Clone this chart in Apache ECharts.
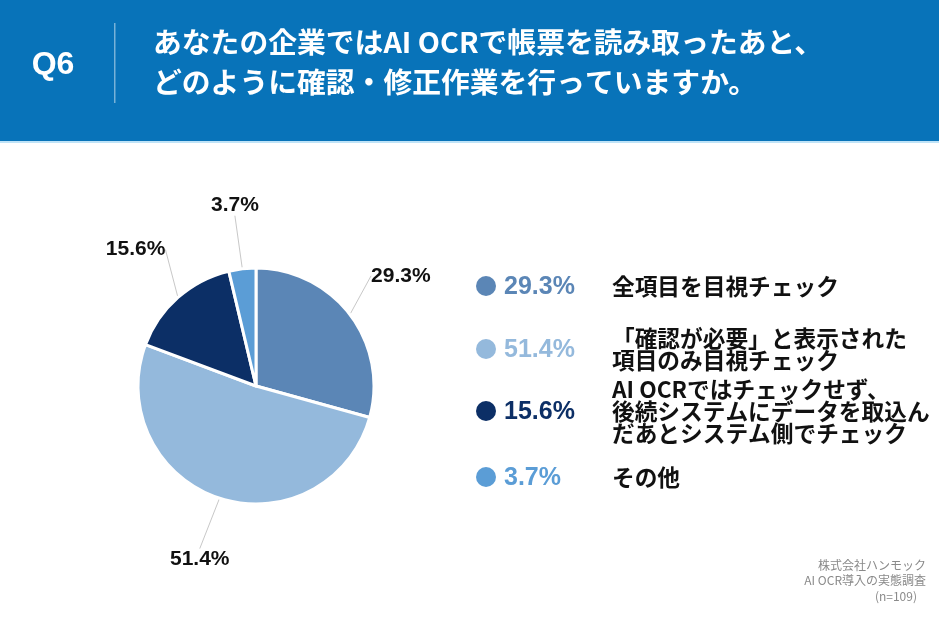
<!DOCTYPE html>
<html><head><meta charset="utf-8">
<script src="https://cdn.jsdelivr.net/npm/echarts@6/dist/echarts.min.js"></script>
<style>html,body{margin:0;padding:0;background:#fff}#c{width:939px;height:617px}</style>
</head><body><div id="c"></div>
<script>
const questionNo = 'Q6';
const titleLines = ['あなたの企業ではAI OCRで帳票を読み取ったあと、', 'どのように確認・修正作業を行っていますか。'];
const categories = ['全項目を目視チェック', '「確認が必要」と表示された\n項目のみ目視チェック', 'AI OCRではチェックせず、\n後続システムにデータを取込ん\nだあとシステム側でチェック', 'その他'];
const values = [29.3, 51.4, 15.6, 3.7];
const colors = ['#5b86b6', '#94b9dc', '#0c2f66', '#5b9dd6'];
const sourceLines = ['株式会社ハンモック', 'AI OCR導入の実態調査', '(n=109)'];

const JP = '"Noto Sans CJK JP", sans-serif';
const NUM = '"Liberation Sans", "Noto Sans CJK JP", sans-serif';
const chart = echarts.init(document.getElementById('c'), null, {renderer: 'canvas'});

const W = 939, H = 617;
const cx = 256, cy = 386, R = 118;

const legendY = [286, 349, 411, 477];
const legendEls = [];
values.forEach((v, i) => {
  legendEls.push({type: 'circle', shape: {cx: 486, cy: legendY[i], r: 10}, style: {fill: colors[i]}});
  legendEls.push({type: 'text', x: 504, y: legendY[i] + 1, style: {text: v.toFixed(1) + '%', fill: colors[i], font: 'bold 25px ' + NUM, textVerticalAlign: 'middle'}});
  legendEls.push({type: 'text', x: 612, y: legendY[i], style: {text: categories[i], fill: '#111', font: 'bold 22.7px ' + JP, lineHeight: 22, textVerticalAlign: 'middle'}});
});

const option = {
  backgroundColor: '#fff',
  animation: false,
  graphic: [
    {type: 'rect', shape: {x: 0, y: 0, width: W, height: 141}, style: {fill: '#0873b9'}, z: 0},
    {type: 'rect', shape: {x: 0, y: 141, width: W, height: 2}, style: {fill: '#bfe3f7'}, z: 0},
    {type: 'text', x: 53, y: 65, style: {text: questionNo, fill: '#fff', font: 'bold 32px ' + NUM, textAlign: 'center', textVerticalAlign: 'middle'}},
    {type: 'rect', shape: {x: 114, y: 23, width: 1.5, height: 80}, style: {fill: 'rgba(255,255,255,0.45)'}},
    {type: 'text', x: 153, y: 42, style: {text: titleLines[0], fill: '#fff', font: 'bold 28.8px ' + JP, textVerticalAlign: 'middle'}},
    {type: 'text', x: 153, y: 82, style: {text: titleLines[1], fill: '#fff', font: 'bold 28.8px ' + JP, textVerticalAlign: 'middle'}},
    ...legendEls,
    {type: 'text', x: 926, y: 565, style: {text: sourceLines[0], fill: '#8a8a8a', font: '12px ' + JP, textAlign: 'right', textVerticalAlign: 'middle'}},
    {type: 'text', x: 926, y: 580, style: {text: sourceLines[1], fill: '#8a8a8a', font: '12px ' + JP, textAlign: 'right', textVerticalAlign: 'middle'}},
    {type: 'text', x: 917, y: 596, style: {text: sourceLines[2], fill: '#8a8a8a', font: '12px ' + JP, textAlign: 'right', textVerticalAlign: 'middle'}}
  ],
  series: [{
    type: 'pie',
    center: [cx, cy],
    radius: R,
    startAngle: 90,
    clockwise: true,
    avoidLabelOverlap: false,
    itemStyle: {borderColor: '#fff', borderWidth: 3},
    label: {
      show: true,
      position: 'outside',
      formatter: p => p.value.toFixed(1) + '%',
      color: '#111',
      fontSize: 21,
      fontWeight: 'bold',
      fontFamily: NUM
    },
    labelLine: {show: true, length: 25, length2: 0, lineStyle: {color: '#c8c8c8', width: 1}},
    labelLayout: function (params) {
      const pts = params.labelLinePoints;
      if (!pts) return {};
      const dx = pts[0][0] - cx, dy = pts[0][1] - cy;
      const d = Math.sqrt(dx * dx + dy * dy);
      const dist = 182;
      return {x: cx + dx / d * dist, y: cy + dy / d * dist, align: 'center', verticalAlign: 'middle'};
    },
    data: values.map((v, i) => ({name: categories[i], value: v, itemStyle: {color: colors[i]}}))
  }]
};
chart.setOption(option);
</script></body></html>
